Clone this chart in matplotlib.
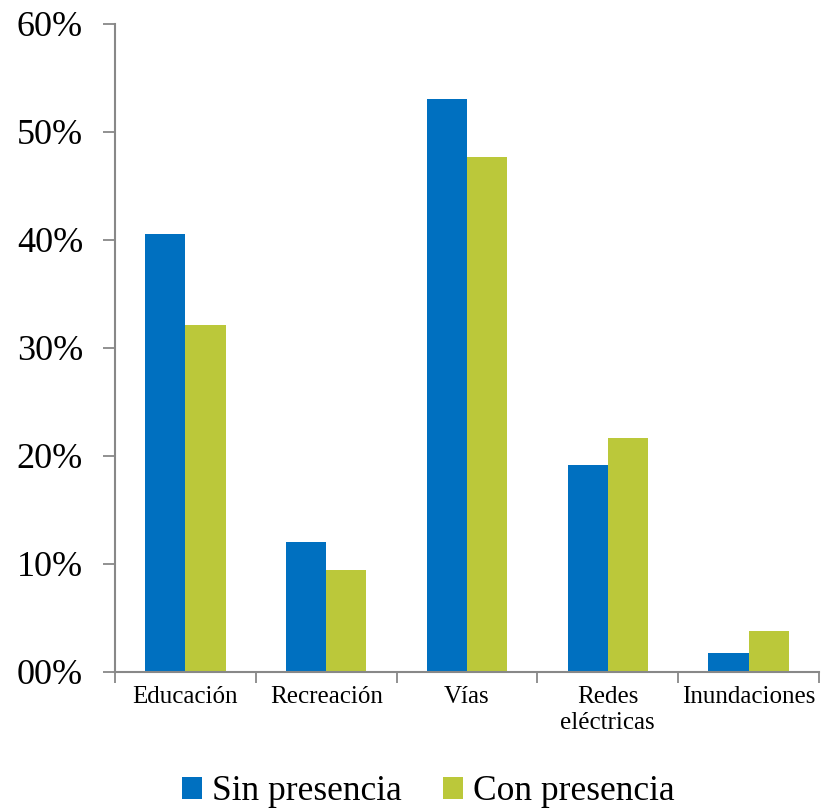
import matplotlib
matplotlib.use("Agg")
import matplotlib.pyplot as plt
import numpy as np
from matplotlib.ticker import FixedLocator, FuncFormatter

categories = ["Educación", "Recreación", "Vías", "Redes\neléctricas", "Inundaciones"]
sin_presencia = [40.6, 12.0, 53.1, 19.2, 1.75]
con_presencia = [32.1, 9.4, 47.7, 21.7, 3.8]
series_names = ["Sin presencia", "Con presencia"]
yticks = [0, 10, 20, 30, 40, 50, 60]

plt.rcParams['font.family'] = ['Liberation Serif', 'DejaVu Serif']

fig = plt.figure(figsize=(8.28, 8.10), dpi=100)
ax = fig.add_axes([115/828, 1-672/810, (819-115)/828, (672-24)/810])

x = np.arange(len(categories))
w = 0.285
blue = "#0070C0"
green = "#BBC83A"
ax.bar(x - w/2, sin_presencia, w, color=blue, label=series_names[0])
ax.bar(x + w/2, con_presencia, w, color=green, label=series_names[1])

ax.set_xlim(-0.5, len(categories) - 0.5)
ax.set_ylim(0, 60)
ax.set_yticks(yticks)
ax.yaxis.set_major_formatter(FuncFormatter(lambda v, p: f"{int(v):02d}%"))
ax.tick_params(axis='y', labelsize=26, length=9, width=1.3, color="#888888", pad=14, direction='out')

ax.set_xticks(x)
ax.set_xticklabels(categories, fontsize=18, linespacing=1.25)
ax.tick_params(axis='x', which='major', length=0, pad=10)
ax.xaxis.set_minor_locator(FixedLocator(np.arange(-0.5, len(categories), 1.0)))
ax.tick_params(axis='x', which='minor', length=8, width=1.3, color="#888888", direction='out')

for s in ['top', 'right']:
    ax.spines[s].set_visible(False)
for s in ['left', 'bottom']:
    ax.spines[s].set_color("#888888")
    ax.spines[s].set_linewidth(1.5)

fig.legend(loc='center', bbox_to_anchor=(0.517, 1-792/810), ncol=2, frameon=False,
           fontsize=25.5, handlelength=0.57, handleheight=0.57, handletextpad=0.28,
           columnspacing=1.15, borderpad=0)

fig.savefig("out.png", dpi=100)
